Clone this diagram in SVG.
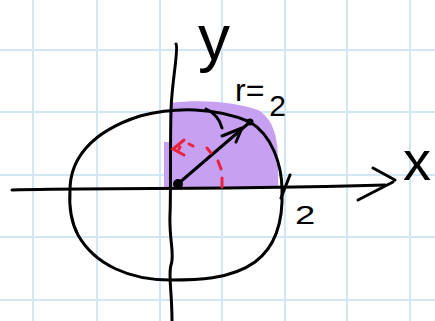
<svg xmlns="http://www.w3.org/2000/svg" width="435" height="321" viewBox="0 0 435 321">
<style>
.grid{stroke:#d2e7f6;stroke-width:2}
.ink{fill:none;stroke:#000;stroke-width:3;stroke-linecap:round;stroke-linejoin:round}
.red{fill:none;stroke:#e8233a;stroke-width:3;stroke-linecap:round}
.lbl{font-family:"Liberation Sans",Arial,sans-serif;fill:#000}
</style>
<rect width="435" height="321" fill="#fff"/>
<g id="grid">
<line class="grid" x1="33" y1="0" x2="33" y2="321"/>
<line class="grid" x1="97" y1="0" x2="97" y2="321"/>
<line class="grid" x1="160" y1="0" x2="160" y2="321"/>
<line class="grid" x1="222" y1="0" x2="222" y2="321"/>
<line class="grid" x1="285" y1="0" x2="285" y2="321"/>
<line class="grid" x1="347" y1="0" x2="347" y2="321"/>
<line class="grid" x1="410" y1="0" x2="410" y2="321"/>
<line class="grid" x1="0" y1="50" x2="435" y2="50"/>
<line class="grid" x1="0" y1="112" x2="435" y2="112"/>
<line class="grid" x1="0" y1="175" x2="435" y2="175"/>
<line class="grid" x1="0" y1="237" x2="435" y2="237"/>
<line class="grid" x1="0" y1="300" x2="435" y2="300"/>
</g>
<g id="region">
<path d="M170,103 C200,99 235,102 258,110 C272,118 278,135 278,160 L278,188 L164,188 L164,142 L170,142 Z" fill="#c7a0f2"/>
</g>
<g id="connectors">
<path class="ink" d="M176,44 C179,48 172,80 171,110 C170,150 171,190 170,215 C169,240 175,255 171,265 C168,275 172,290 172,321"/>
<path class="ink" d="M12,190 C80,188 200,190 385,185"/>
<path class="ink" d="M373,168 L395,180 M358,200 L393,182"/>
<path class="ink" d="M70,190 C70,160 90,132 140,116 C175,107 215,107 250,122 C272,135 282,165 282,190 C283,215 278,245 255,262 C230,280 195,280 170,280 C130,280 95,265 78,235 C70,220 69,205 70,190 Z"/>
<path class="ink" d="M290,175 L281,198"/>
<path class="ink" d="M179,183 L250,122"/>
<path class="ink" d="M222,136 L242,128 L236,142"/>
<path class="ink" d="M206,109 C215,113 220,120 222,128"/>
<circle cx="250" cy="122" r="3.5" fill="#000"/>
<circle cx="178" cy="184" r="5" fill="#000"/>
<path class="red" d="M222,187 L222,178 M221,169 L218,161 M211,153 L207,148 M193,146 L189,144"/>
<path class="red" d="M184,140 L173,149 L184,155 M180,147 L179,149"/>
</g>
<g id="labels">
<text class="lbl" x="198" y="60" font-size="64">y</text>
<text class="lbl" x="403" y="180" font-size="56">x</text>
<text class="lbl" x="235" y="101" font-size="32">r=<tspan dx="5" dy="15" font-size="30">2</tspan></text>
<text class="lbl" font-size="26" transform="translate(295,224) scale(1.4,1)">2</text>
</g>
</svg>
